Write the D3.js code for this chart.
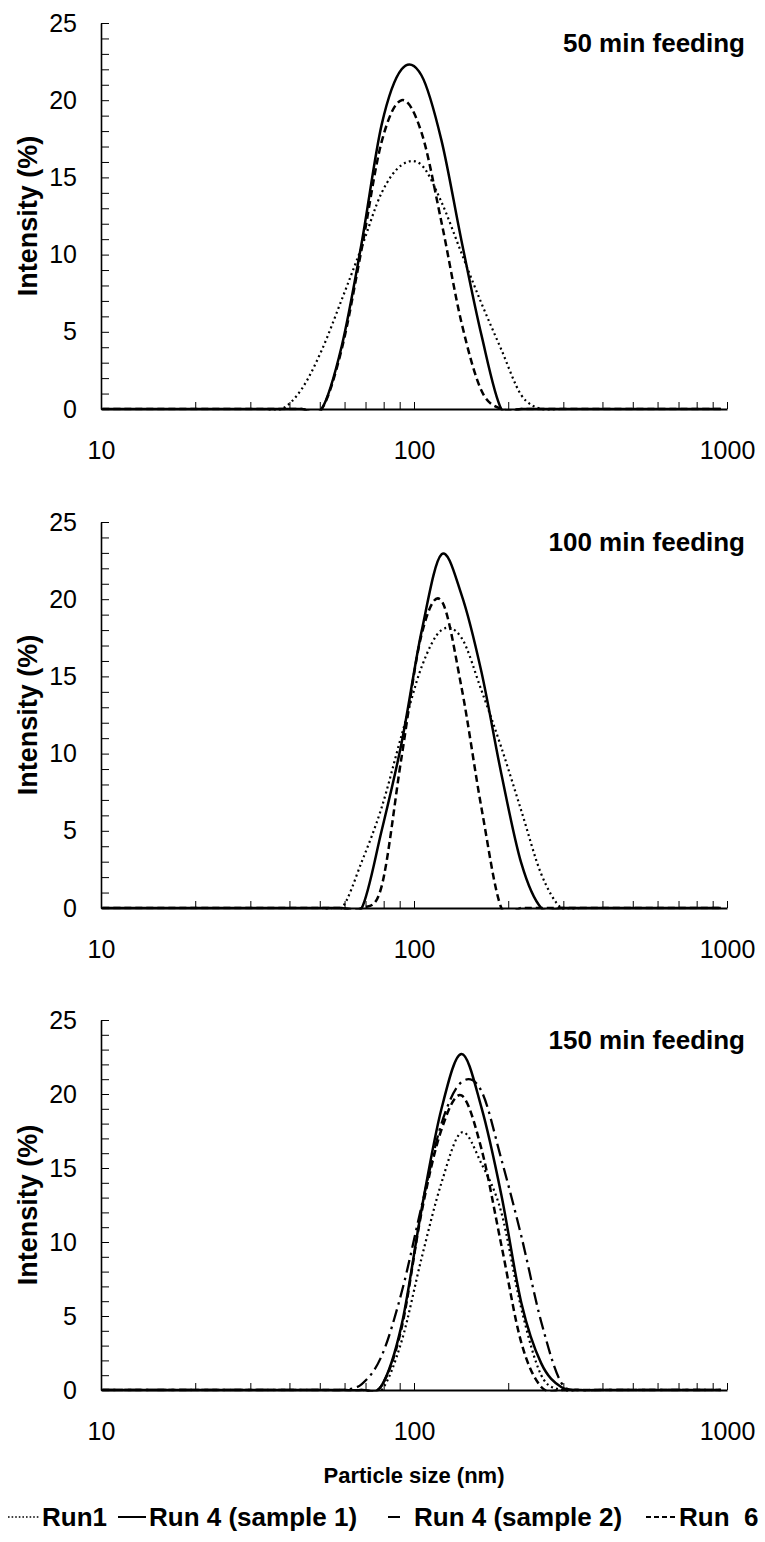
<!DOCTYPE html>
<html>
<head>
<meta charset="utf-8">
<script src="https://cdn.jsdelivr.net/npm/d3@7"></script>
<style>
  body { margin: 0; background: #fff; }
  text { font-family: "Liberation Sans", Arial, sans-serif; fill: #000; }
</style>
</head>
<body>
<div id="chart"></div>
<script>
// Size classes of the DLS instrument (nm)
var sizeBins = [10.1, 11.7, 13.5, 15.7, 18.2, 21.0, 24.4, 28.2, 32.7, 37.8, 43.8, 50.7,
  58.8, 68.1, 78.8, 91.3, 105.7, 122.4, 141.8, 164.2, 190.1, 220.2, 255.0, 295.3,
  342.0, 396.1, 458.7, 531.2, 615.1, 712.4, 825.0, 955.4];

// Intensity (%) per size class, one array per run and feeding time
// 50 min feeding
var p50_run1 = [0,0,0,0,0,0,0,0,0,0,1.3,3.8,7.1,10.5,14.0,15.8,15.8,13.4,10.1,6.85,3.85,0.9,0,0,0,0,0,0,0,0,0,0];
var p50_run4a = [0,0,0,0,0,0,0,0,0,0,0,0,4.1,10.8,18.4,22.0,21.6,17.4,10.9,4.8,0,0,0,0,0,0,0,0,0,0,0,0];
var p50_run6 = [0,0,0,0,0,0,0,0,0,0,0,0,3.9,10.4,17.3,20.0,17.9,12.1,5.6,1.2,0,0,0,0,0,0,0,0,0,0,0,0];
// 100 min feeding
var p100_run1 = [0,0,0,0,0,0,0,0,0,0,0,0,0,3.0,6.5,11.2,15.6,18.0,17.5,14.1,10.4,6.3,2.2,0,0,0,0,0,0,0,0,0];
var p100_run4a = [0,0,0,0,0,0,0,0,0,0,0,0,0,0,5.0,10.7,17.9,22.9,20.3,15.3,8.7,2.9,0,0,0,0,0,0,0,0,0,0];
var p100_run6 = [0,0,0,0,0,0,0,0,0,0,0,0,0,0,1.4,9.8,17.7,19.9,14.3,6.5,0,0,0,0,0,0,0,0,0,0,0,0];
// 150 min feeding
var p150_run1 = [0,0,0,0,0,0,0,0,0,0,0,0,0,0,0,3.3,8.9,14.0,17.4,15.3,12.0,5.5,1.0,0,0,0,0,0,0,0,0,0];
var p150_run4a = [0,0,0,0,0,0,0,0,0,0,0,0,0,0,0.3,4.4,12.2,19.0,22.7,19.1,13.2,5.9,1.8,0.2,0,0,0,0,0,0,0,0];
var p150_run4b = [0,0,0,0,0,0,0,0,0,0,0,0,0,0.4,2.3,6.6,12.4,18.0,20.8,20.2,15.6,10.4,4.6,0.5,0,0,0,0,0,0,0,0];
var p150_run6 = [0,0,0,0,0,0,0,0,0,0,0,0,0,0,0.3,4.2,12.0,17.6,19.9,16.3,9.8,3.2,0.2,0,0,0,0,0,0,0,0,0];

var panelTitles = ["50 min feeding", "100 min feeding", "150 min feeding"];
var panelSeries = [
  [["run1", p50_run1], ["run4a", p50_run4a], ["run6", p50_run6]],
  [["run1", p100_run1], ["run4a", p100_run4a], ["run6", p100_run6]],
  [["run1", p150_run1], ["run4a", p150_run4a], ["run4b", p150_run4b], ["run6", p150_run6]]
];
var legendKeys = ["run1", "run4a", "run4b", "run6"];
var legendLabels = ["Run1", "Run 4 (sample 1)", "Run 4 (sample 2)", "Run  6"];
var yTicks = d3.range(0, 26);
var xTicks = [10,20,30,40,50,60,70,80,90,100,200,300,400,500,600,700,800,900,1000];

// line styles
var styles = {
  run1: { dash: "2,3.2", width: 2.2, legendDash: "1.6,2", legendWidth: 1.6 },
  run4a: { dash: null, width: 2.5, legendDash: null, legendWidth: 2 },
  run4b: { dash: "13,5,2.5,5", width: 2.3, legendDash: null, legendWidth: 2 },
  run6: { dash: "7,4", width: 2.5, legendDash: "5,3", legendWidth: 2 }
};

var svgWidth = 765, svgHeight = 1542;
var plotLeft = 101, plotRight = 727;
var panelTops = [23, 522, 1020];
var panelHeights = [386, 386, 370];

var svg = d3.select("#chart").append("svg")
  .attr("width", svgWidth)
  .attr("height", svgHeight);

var x = d3.scaleLog().domain([10, 1000]).range([plotLeft, plotRight]);

panelSeries.forEach(function(series, i) {
  var top = panelTops[i], h = panelHeights[i];
  var y = d3.scaleLinear().domain([0, 25]).range([top + h, top]);

  svg.append("clipPath").attr("id", "clip" + i)
    .append("rect")
    .attr("x", plotLeft).attr("y", top - 5)
    .attr("width", plotRight - plotLeft).attr("height", h + 6.5);

  var g = svg.append("g");

  // y axis, ticks point inward
  var yAxis = d3.axisLeft(y)
    .tickValues(yTicks)
    .tickSizeInner(-8)
    .tickSizeOuter(0)
    .tickPadding(24)
    .tickFormat(function(d) { return d % 5 === 0 ? d : ""; });
  var ya = g.append("g").attr("transform", "translate(" + plotLeft + ",0)").call(yAxis);
  ya.select(".domain").attr("stroke-width", 1.6);
  ya.selectAll(".tick line").attr("stroke-width", 1);
  ya.selectAll("text").style("font-size", "25px");

  // x axis (log)
  var xAxis = d3.axisBottom(x)
    .tickValues(xTicks)
    .tickSizeInner(-7)
    .tickSizeOuter(0)
    .tickPadding(32)
    .tickFormat(function(d) { return [10, 100, 1000].indexOf(d) >= 0 ? d : ""; });
  var xa = g.append("g").attr("transform", "translate(0," + (top + h) + ")").call(xAxis);
  xa.select(".domain").attr("stroke-width", 2);
  xa.selectAll(".tick line").attr("stroke-width", 1);
  xa.selectAll("text").style("font-size", "25px");

  g.append("text")
    .attr("transform", "translate(28," + (top + h / 2) + ") rotate(-90)")
    .attr("text-anchor", "middle")
    .attr("dy", "0.35em")
    .style("font-size", "27px")
    .style("font-weight", "bold")
    .text("Intensity (%)");

  g.append("text")
    .attr("x", 745)
    .attr("y", top + 29)
    .attr("text-anchor", "end")
    .style("font-size", "26px")
    .style("font-weight", "bold")
    .text(panelTitles[i]);

  var line = d3.line()
    .x(function(d, k) { return x(sizeBins[k]); })
    .y(function(d) { return y(d); })
    .curve(d3.curveCatmullRom.alpha(0));

  series.forEach(function(s) {
    var st = styles[s[0]];
    g.append("path")
      .datum(s[1])
      .attr("clip-path", "url(#clip" + i + ")")
      .attr("d", line)
      .attr("fill", "none")
      .attr("stroke", "#000")
      .attr("stroke-width", st.width)
      .attr("stroke-dasharray", st.dash);
  });
});

svg.append("text")
  .attr("x", (plotLeft + plotRight) / 2)
  .attr("y", 1483)
  .attr("text-anchor", "middle")
  .style("font-size", "22px")
  .style("font-weight", "bold")
  .text("Particle size (nm)");

// legend: [line start, line end, text start]
var legendX = [[8, 39, 42], [118, 146, 149], [388, 400, 414], [646, 675, 679]];
var legend = svg.append("g");
legendKeys.forEach(function(k, i) {
  var st = styles[k];
  var pos = legendX[i];
  legend.append("line")
    .attr("x1", pos[0]).attr("x2", pos[1])
    .attr("y1", 1517).attr("y2", 1517)
    .attr("stroke", "#000")
    .attr("stroke-width", st.legendWidth)
    .attr("stroke-dasharray", st.legendDash);
  legend.append("text")
    .attr("x", pos[2])
    .attr("y", 1517)
    .attr("dy", "0.36em")
    .style("font-size", "26px")
    .style("font-weight", "bold")
    .style("white-space", "pre")
    .text(legendLabels[i]);
});
</script>
</body>
</html>
